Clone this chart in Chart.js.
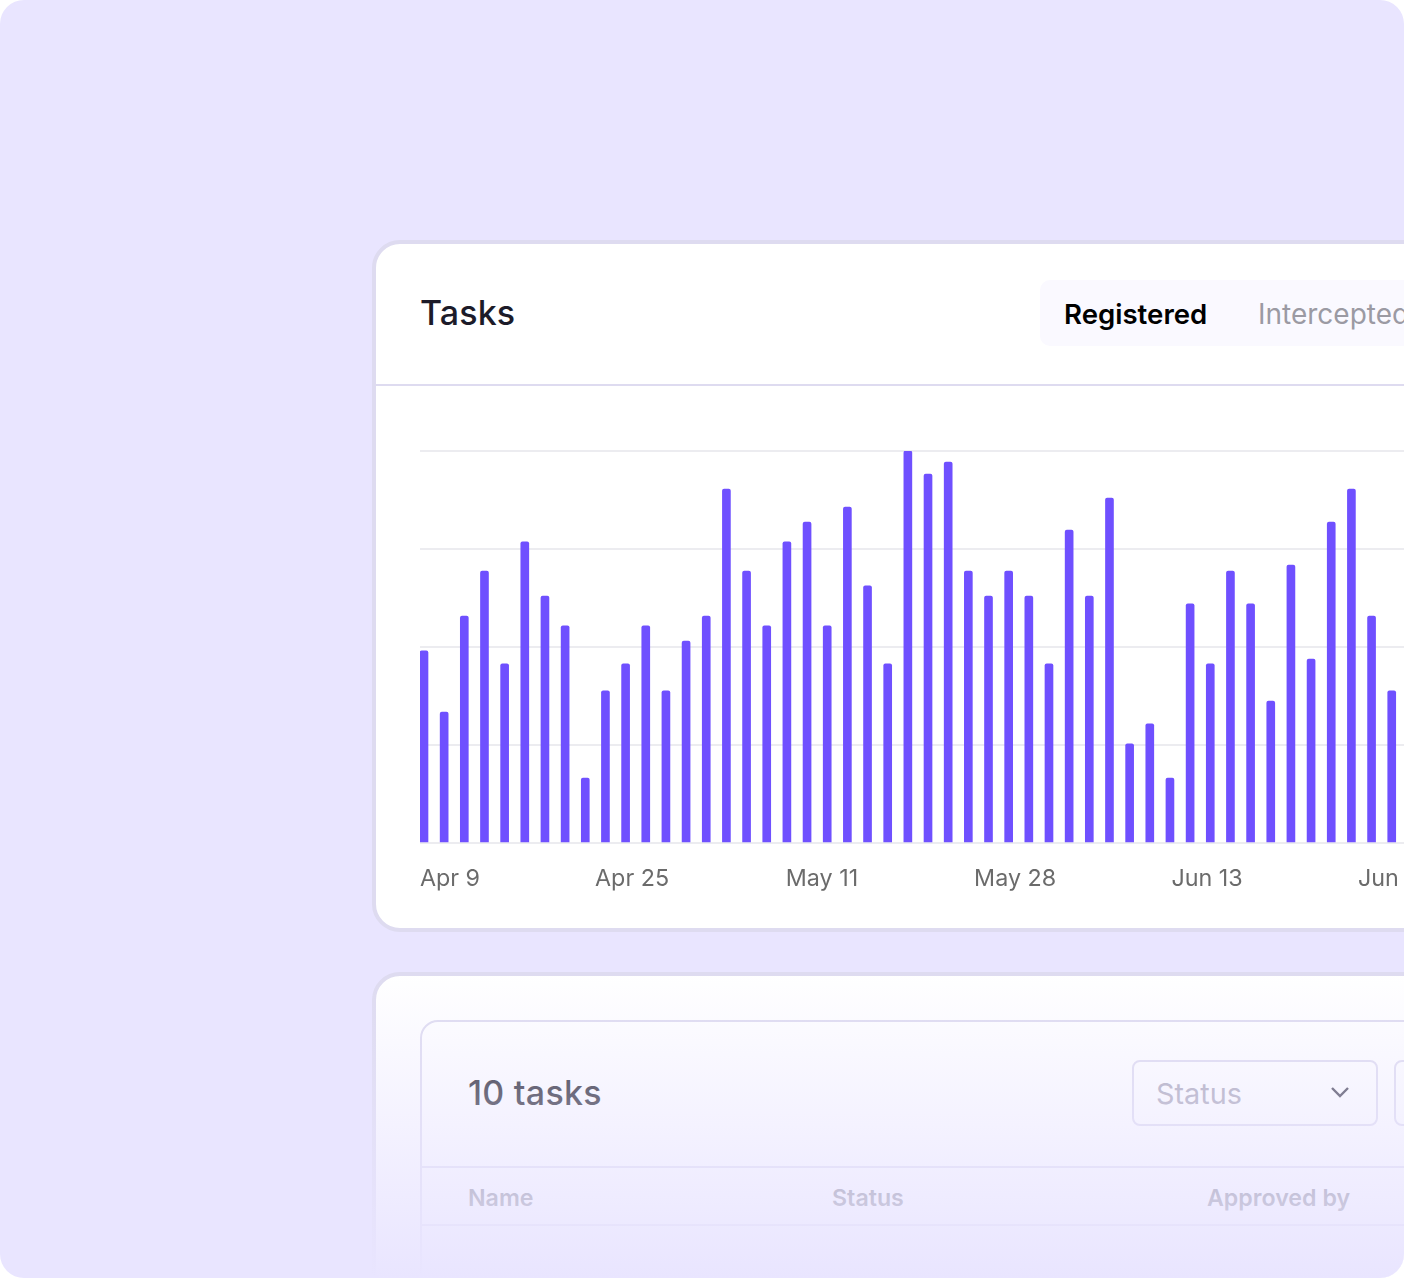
<!DOCTYPE html>
<html>
<head>
<meta charset="utf-8">
<title>Tasks</title>
<script src="https://cdn.jsdelivr.net/npm/chart.js@4/dist/chart.umd.min.js"></script>
<style>
  html, body { margin: 0; width: 1404px; height: 1278px; overflow: hidden; background: #fff; font-family: Inter, sans-serif; }
  .page { position: absolute; left: 0; top: 0; width: 1404px; height: 1278px; background: #e9e5ff; border-radius: 24px; overflow: hidden; }
  .card { position: absolute; left: 372px; width: 1200px; background: #fff; border: 4px solid #dedbf0; border-radius: 28px; box-sizing: border-box; }
  .chart-card { top: 240px; height: 692px; }
  .table-card { top: 972px; height: 420px; }
  .abs { position: absolute; white-space: nowrap; }
  .title { font-weight: 500; font-size: 34px; color: #1c1b29; }
  canvas { position: absolute; left: 376px; top: 386px; }
  .divider { position: absolute; left: 376px; top: 384px; width: 1100px; height: 2px; background: #dedbf0; }
  .tabs { position: absolute; left: 1040px; top: 280px; width: 500px; height: 66px; border-radius: 10px; background: #faf9ff; }
  .inner { position: absolute; left: 420px; top: 1020px; width: 1200px; height: 400px; border: 2px solid #dedbf0; border-radius: 18px; box-sizing: border-box; }
  .rule { position: absolute; left: 422px; width: 1100px; height: 2px; background: #dedbf0; }
  .select { position: absolute; top: 1060px; height: 66px; border: 2px solid #dedbf0; border-radius: 8px; box-sizing: border-box; }
  .head { top: 1184px; font-size: 23.2px; font-weight: 600; color: #6b6b78; }
  .fade { position: absolute; left: 372px; top: 972px; width: 1032px; height: 306px; background: linear-gradient(to bottom, rgba(233,229,255,0), rgba(233,229,255,1)); }
</style>
</head>
<body>
<div class="page">
  <div class="card chart-card"></div>
  <div class="abs title" style="left:420px;top:292px;letter-spacing:0.1px;">Tasks</div>
  <div class="tabs"></div>
  <div class="abs" style="left:1064px;top:297px;font-size:27.6px;font-weight:600;color:#000;">Registered</div>
  <div class="abs" style="left:1258px;top:297px;font-size:28px;color:#9b9aa3;">Intercepted</div>
  <div class="divider"></div>
  <canvas id="tasks-chart" width="1200" height="542"></canvas>

  <div class="card table-card"></div>
  <div class="inner"></div>
  <div class="abs title" style="left:468px;top:1072px;letter-spacing:0.25px;">10 tasks</div>
  <div class="select" style="left:1132px;width:246px;"></div>
  <div class="select" style="left:1394px;width:246px;"></div>
  <div class="abs" style="left:1156px;top:1076px;font-size:28.8px;color:#a9a6b8;">Status</div>
  <svg class="abs" style="left:1330px;top:1085px;" width="20" height="16" viewBox="0 0 20 16"><path d="M2 3 L10 11 L18 3" fill="none" stroke="#3c3a4c" stroke-width="2.4"/></svg>
  <div class="rule" style="top:1166px;"></div>
  <div class="rule" style="top:1224px;"></div>
  <div class="abs head" style="left:468px;">Name</div>
  <div class="abs head" style="left:832px;">Status</div>
  <div class="abs head" style="left:1207px;">Approved by</div>
  <div class="fade"></div>
</div>
<script>
const taskCounts = [
  49, 33.4, 57.9, 69.4, 45.7, 76.8, 63, 55.4, 16.6, 38.8,
  45.7, 55.4, 38.8, 51.5, 57.9, 90.3, 69.4, 55.4, 76.8, 81.9,
  55.4, 85.7, 65.6, 45.7, 100, 94.1, 97.2, 69.4, 63, 69.4,
  63, 45.7, 79.8, 63, 88, 25.3, 30.4, 16.6, 61, 45.7,
  69.4, 61, 36.2, 70.9, 46.9, 81.9, 90.3, 57.9, 38.8,
];
const tickLabels = ['Apr 9', 'Apr 25', 'May 11', 'May 28', 'Jun 13', 'Jun 29'];
// where the labels sit, counted in bars from the first one
const tickSlots = [1.29, 10.32, 19.74, 29.32, 38.84, 48.21];

const chart = new Chart(document.getElementById('tasks-chart'), {
  type: 'bar',
  data: {
    datasets: [
      {
        label: 'Registered',
        data: taskCounts.map((count, i) => ({ x: i, y: count })),
        backgroundColor: '#6f50ff',
        barThickness: 8,
        borderRadius: { topLeft: 2, topRight: 2, bottomLeft: 0, bottomRight: 0 },
        borderSkipped: 'bottom',
      },
    ],
  },
  options: {
    responsive: false,
    animation: false,
    layout: { padding: { left: 44, top: 65, right: 0, bottom: 21 } },
    plugins: { legend: { display: false }, tooltip: { enabled: false } },
    scales: {
      x: {
        type: 'linear',
        offset: false,
        bounds: 'data',
        min: -0.198,
        max: 57.14,
        grid: { display: false },
        border: { display: false },
        afterBuildTicks: (axis) => {
          axis.ticks = tickSlots.map((slot) => ({ value: slot }));
        },
        ticks: {
          autoSkip: false,
          maxRotation: 0,
          padding: 14,
          color: '#6b6b6b',
          font: { family: 'Inter', size: 23.3 },
          callback: (value, i) => tickLabels[i],
        },
      },
      y: {
        min: 0,
        max: 100,
        grid: { color: '#ececf0', lineWidth: 2, drawTicks: false },
        border: { display: false },
        ticks: { display: false, stepSize: 25 },
      },
    },
  },
});
</script>
</body>
</html>
